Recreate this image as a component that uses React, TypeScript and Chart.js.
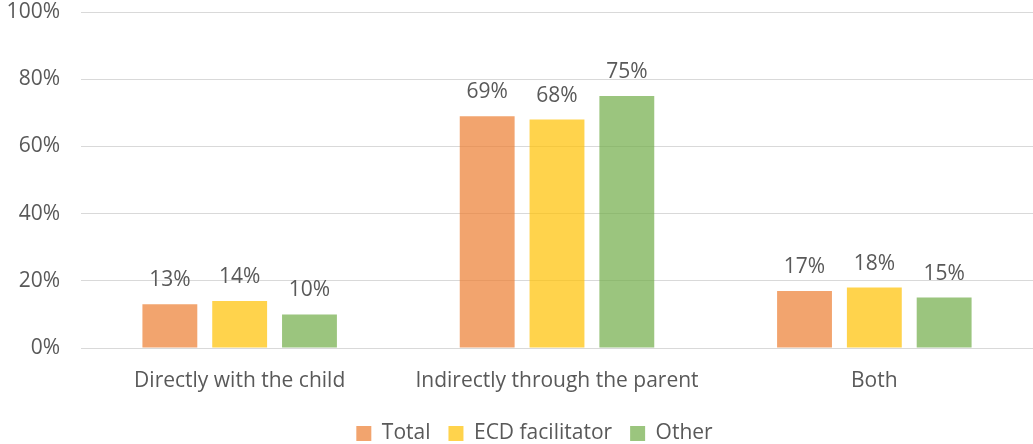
import React, { useEffect, useRef } from "react";
import { Chart, registerables } from "chart.js";

Chart.register(...registerables);

const categories = ["Directly with the child", "Indirectly through the parent", "Both"];
const seriesNames = ["Total", "ECD facilitator", "Other"];
const totalValues = [13, 69, 17];
const ecdValues = [14, 68, 18];
const otherValues = [10, 75, 15];
const yTicks = [0, 20, 40, 60, 80, 100];

// Semi-transparent fills, so the gridlines show faintly through the bars
const colors = ["rgba(237,125,49,0.7)", "rgba(255,192,0,0.7)", "rgba(112,173,71,0.7)"];
const textColor = "#595959";
const fontFamily = "'Open Sans', Lato, sans-serif";
const fontSize = 21;

// Percentage label above every bar
const valueLabels = {
  id: "valueLabels",
  afterDatasetsDraw(chart: any) {
    const ctx = chart.ctx;
    ctx.save();
    ctx.font = `${fontSize}px ${fontFamily}`;
    ctx.fillStyle = textColor;
    ctx.textAlign = "center";
    ctx.textBaseline = "alphabetic";
    chart.data.datasets.forEach((ds: any, i: number) => {
      const meta = chart.getDatasetMeta(i);
      meta.data.forEach((el: any, j: number) => {
        ctx.fillText(`${ds.data[j]}%`, el.x, el.y - 18);
      });
    });
    ctx.restore();
  },
};

// Nudge the legend row a little to the right of the canvas centre
const legendShift = {
  id: "legendShift",
  afterLayout(chart: any) {
    const lg = chart.legend;
    if (lg) {
      lg.left += 18;
      lg.right += 18;
    }
  },
};

export default function App() {
  const ref = useRef<HTMLCanvasElement | null>(null);

  useEffect(() => {
    if (!ref.current) return;
    const series = [totalValues, ecdValues, otherValues];
    const chart = new Chart(ref.current, {
      type: "bar",
      data: {
        labels: categories,
        datasets: series.map((data, i) => ({
          label: seriesNames[i],
          data,
          backgroundColor: colors[i],
          categoryPercentage: 0.66,
          barPercentage: 0.786,
        })),
      },
      options: {
        animation: false,
        responsive: true,
        maintainAspectRatio: false,
        layout: { padding: { top: 12, right: 0, left: 0, bottom: -10 } },
        plugins: {
          legend: {
            position: "bottom",
            labels: {
              boxWidth: 15,
              boxHeight: 15,
              padding: 18,
              color: textColor,
              font: { family: fontFamily, size: fontSize },
            },
          },
          tooltip: { enabled: false },
        },
        scales: {
          x: {
            grid: { display: false, drawTicks: false },
            border: { color: "#D9D9D9", width: 1 },
            ticks: {
              color: textColor,
              padding: 20,
              font: { family: fontFamily, size: fontSize },
            },
            afterFit(scale: any) {
              scale.height = 57;
            },
          },
          y: {
            min: 0,
            max: 100,
            afterBuildTicks(scale: any) {
              scale.ticks = yTicks.map((v) => ({ value: v }));
            },
            afterFit(scale: any) {
              scale.width = 81;
              scale.paddingTop = 0;
              scale.paddingBottom = 0;
            },
            grid: { color: "#D9D9D9", lineWidth: 1, drawTicks: false },
            border: { display: false },
            ticks: {
              color: textColor,
              padding: 21,
              font: { family: fontFamily, size: fontSize },
              callback: (v: any) => `${v}%`,
            },
          },
        },
      },
      plugins: [valueLabels, legendShift],
    });
    return () => chart.destroy();
  }, []);

  return (
    <div style={{ position: "fixed", left: 0, top: 0, width: 1033, height: 444, background: "#fff" }}>
      <canvas ref={ref} />
    </div>
  );
}
